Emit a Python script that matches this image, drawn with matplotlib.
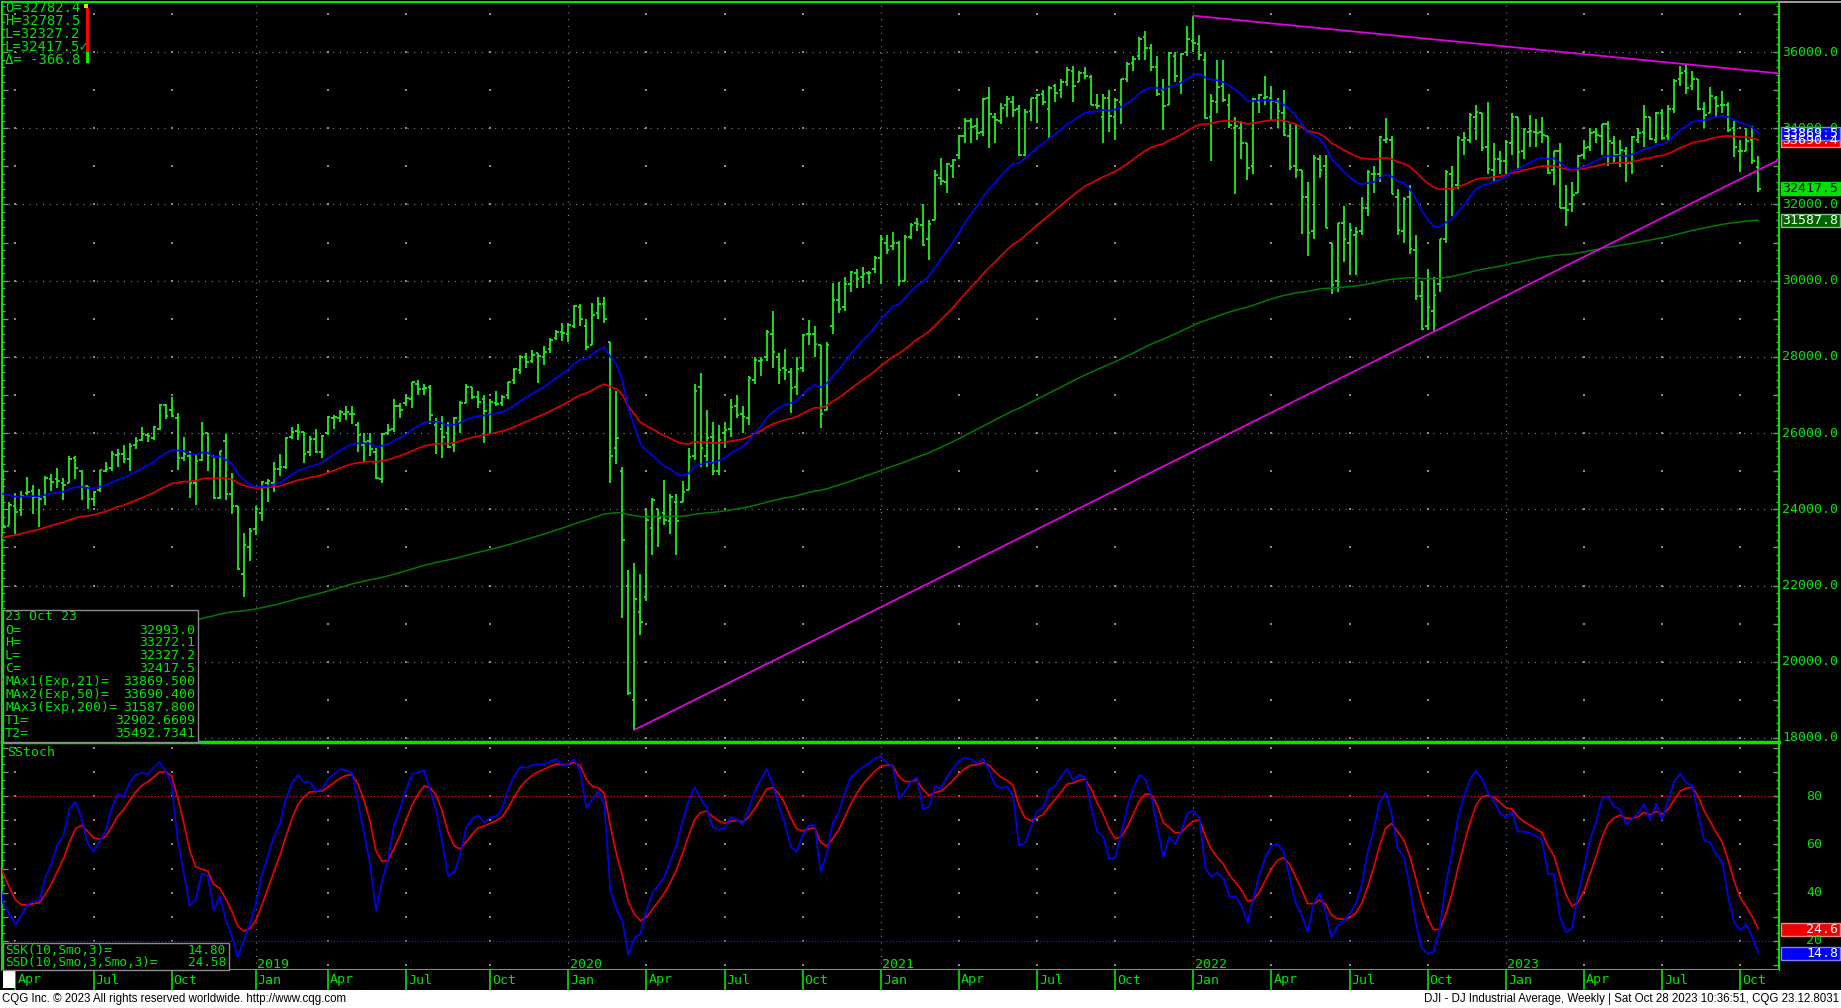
import numpy as np
import pandas as pd
import matplotlib
matplotlib.use("Agg")
import matplotlib.pyplot as plt
import matplotlib.dates as mdates
from matplotlib.collections import LineCollection
from matplotlib.patches import Rectangle
from matplotlib.lines import Line2D
from matplotlib.ticker import MultipleLocator

# ---------------------------
# Data: DJI weekly bars (week dated by its Monday)
# the first 13 bars (Dec 2017 - Mar 2018) only warm up the studies
# ---------------------------
first_week = "2017-12-18"

week_open = [
    24700, 24760, 24810, 25300, 25800, 26150, 26600, 25500, 24270, 25200, 25300, 24450,
    # 2018
    25180, 24900, 23560, 24080, 23990, 24420, 24480, 24330, 24320, 24790, 24800, 24700, 24700, 25340, 25000,
    24600, 24270, 24510, 25000, 25090, 25430, 25450, 25310, 25700, 25830, 25960, 25880, 26100, 26750, 26600,
    26400, 25350, 25400, 24700, 25300, 26000, 25400, 24300, 25800, 24400, 24100, 22300, 23000,
    # 2019
    23480, 23900, 24700, 24700, 25060, 25100, 25900, 26050, 26020, 25500, 25850, 25500, 26000, 26400, 26400,
    26500, 26500, 26200, 25700, 25800, 25500, 24800, 26000, 26100, 26700, 26800, 26900, 27300, 27150, 27200,
    26200, 26100, 26000, 25700, 26300, 26800, 27200, 26950, 26900, 26500, 26800, 26800, 27000, 27400, 27650,
    28000, 27900, 28100, 28000, 28200, 28500, 28650,
    # 2020
    28600, 28800, 29300, 28800, 28300, 29150, 29400, 28400, 25600, 25000, 22000, 19000, 21300, 21700, 23500,
    24000, 23900, 23700, 24200, 24200, 24500, 25400, 27200, 25400, 25900, 25000, 26000, 26100, 26700, 26500,
    26400, 27400, 27900, 28000, 28600, 28000, 27700, 27600, 27200, 27700, 28600, 28600, 28300, 26600, 28800,
    29500, 29300, 29900, 30200, 30100, 30200, 30300,
    # 2021
    30600, 31000, 30900, 31000, 30000, 31150, 31500, 31450, 31100, 31600, 32700, 32600, 33000, 33300, 33800,
    34200, 34050, 33900, 34800, 34300, 34200, 34600, 34700, 34500, 33300, 34450, 34800, 34900, 34500, 35100,
    35000, 35200, 35500, 35200, 35450, 35350, 34600, 34300, 34800, 34300, 34700, 35300, 35700, 35900, 36400,
    36100, 35600, 35000, 34600, 35900, 35200, 36000,
    # 2022
    36300, 36200, 35800, 34300, 34700, 35100, 34600, 34000, 34000, 33600, 33000, 34700, 34800, 34800, 34700,
    34400, 33800, 33000, 32900, 32200, 31300, 33200, 33000, 31000, 30000, 31500, 31000, 31200, 31300, 31900,
    32800, 32800, 33700, 33700, 32200, 31300, 32200, 30800, 29600, 28800, 29200, 29900, 31100, 32800, 32500,
    33700, 33700, 34300, 34400, 33500, 32900, 33200,
    # 2023
    33150, 33600, 34300, 33400, 33900, 33900, 33900, 33800, 32900, 33400, 31900, 32000, 32300, 33300, 33500,
    33900, 33800, 34100, 33600, 33300, 33400, 33100, 33700, 33900, 34300, 33700, 34400, 33800, 34500, 35300,
    35500, 35100, 35300, 34500, 34400, 34800, 34600, 34600, 34000, 33400, 33400, 33700, 32993.0,
]

week_high = [
    24876, 24870, 25300, 25810, 26150, 26617, 26610, 25600, 25200, 25480, 25800, 25450,
    # 2018
    25450, 25070, 24200, 24420, 24480, 24860, 24650, 24540, 24880, 24920, 25090, 24830, 25400, 25400, 25040,
    24610, 24480, 25040, 25240, 25540, 25570, 25690, 25730, 25890, 26170, 26000, 26180, 26770, 26770, 26950,
    26540, 25900, 25540, 25440, 26280, 26000, 25400, 25540, 25980, 24950, 24100, 23380, 23520,
    # 2019
    24080, 24750, 24800, 25250, 25440, 25890, 26150, 26240, 26040, 25930, 26110, 25950, 26440, 26480, 26600,
    26700, 26700, 26300, 26000, 26000, 25600, 26000, 26240, 26900, 26800, 27000, 27340, 27400, 27300, 27250,
    26400, 26450, 26300, 26420, 26850, 27300, 27200, 27100, 27000, 26900, 27100, 27000, 27350, 27700, 28040,
    28090, 28170, 28100, 28290, 28500, 28700, 28900,
    # 2020
    28900, 29370, 29380, 29000, 29410, 29570, 29570, 28400, 27100, 25100, 22400, 22600, 22300, 24000, 24300,
    24000, 24770, 24400, 24400, 24750, 25600, 27300, 27580, 26600, 26300, 26200, 26300, 26900, 27000, 26700,
    27500, 28000, 28000, 28700, 29200, 28100, 28200, 27700, 28000, 28600, 28960, 28800, 28300, 28400, 29930,
    29970, 30100, 30250, 30300, 30350, 30250, 30650,
    # 2021
    31200, 31200, 31270, 31030, 31200, 31500, 31640, 32010, 31600, 32900, 33230, 33100, 33200, 33820, 34260,
    34260, 34260, 34800, 35090, 34400, 34650, 34850, 34850, 34600, 34500, 34800, 34900, 35000, 35100, 35170,
    35300, 35600, 35630, 35500, 35600, 35400, 34900, 34900, 35000, 34800, 35300, 35750, 35900, 36400, 36560,
    36200, 35900, 35300, 36000, 36000, 35970, 36680,
    # 2022
    36952.65, 36450, 36000, 34900, 35800, 35800, 34900, 34300, 34200, 33600, 34800, 34900, 35370, 35100, 34800,
    35000, 34100, 34100, 32900, 32600, 33300, 33300, 33300, 31000, 31520, 31950, 31500, 31400, 32200, 32900,
    33000, 33800, 34280, 33800, 32400, 32200, 32500, 31200, 30000, 30300, 30100, 31100, 32900, 33000, 33800,
    33900, 34400, 34600, 34400, 34700, 33600, 33400,
    # 2023
    33700, 34400, 34300, 34000, 34340, 34250, 34300, 33800, 33400, 33600, 32500, 32600, 33300, 33700, 34000,
    34000, 34100, 34200, 33800, 33700, 33500, 33800, 34000, 34600, 34300, 34420, 34500, 34600, 35300, 35630,
    35679, 35500, 35300, 34700, 35070, 34850, 34980, 34700, 34200, 33700, 34000, 34060, 33272.1,
]

week_low = [
    24650, 24700, 24760, 25200, 25700, 26100, 25500, 23360, 24100, 24850, 24300, 24300,
    # 2018
    24780, 23510, 23600, 23345, 23820, 24380, 23890, 23530, 24110, 24480, 24570, 24250, 24680, 24800, 24250,
    23997, 24080, 24460, 24980, 25000, 25120, 25210, 25000, 25580, 25790, 25760, 25820, 26080, 26380, 26420,
    25040, 25260, 24290, 24120, 25270, 25010, 24270, 24270, 24240, 23880, 22400, 21712, 22640,
    # 2019
    23320, 23700, 24200, 24450, 24880, 25050, 25850, 25810, 25210, 25400, 25490, 25340, 25950, 26100, 26280,
    26350, 26250, 25500, 25220, 25400, 24800, 24680, 25950, 26020, 26400, 26700, 26650, 27000, 26990, 26250,
    25440, 25340, 25600, 25500, 26000, 26780, 26900, 26650, 25750, 26000, 26700, 26700, 26900, 27300, 27550,
    27700, 27850, 27320, 27800, 28100, 28450, 28420,
    # 2020
    28400, 28750, 28800, 28170, 28300, 29000, 28900, 24680, 25200, 21150, 19120, 18213.65, 20700, 21600, 22800,
    23000, 23600, 23350, 22800, 24200, 24500, 25300, 25100, 25100, 24900, 24900, 25600, 25900, 26400, 26000,
    26200, 27300, 27500, 27900, 27700, 27300, 27400, 26540, 27000, 27600, 28300, 28000, 26140, 26600, 28600,
    29150, 29200, 29700, 29800, 29800, 29900, 30200,
    # 2021
    29900, 30700, 30800, 29850, 30000, 31100, 31300, 30900, 30550, 31600, 32500, 32300, 32700, 33200, 33600,
    33600, 33700, 33800, 33470, 33600, 34100, 34300, 34300, 33270, 33270, 34200, 34150, 34600, 33740, 34700,
    34800, 35100, 34700, 35200, 35300, 34600, 34500, 33610, 33900, 33700, 34100, 35200, 35500, 35800, 35800,
    35500, 34850, 33960, 34600, 35200, 34900, 35900,
    # 2022
    36000, 35800, 34250, 33150, 34400, 34700, 34000, 32270, 33200, 32630, 32800, 34400, 34600, 34200, 34000,
    33800, 32900, 32700, 31230, 30640, 31100, 32700, 31380, 29650, 29700, 30500, 30150, 30140, 31200, 31700,
    32300, 32600, 33600, 32280, 31200, 31000, 30700, 29500, 28715, 28700, 28661, 29700, 31000, 31700, 32400,
    33300, 33600, 33700, 33400, 32800, 32600, 32800,
    # 2023
    32800, 33300, 32900, 33200, 33500, 33500, 33600, 32800, 32500, 31900, 31430, 31800, 32300, 33200, 33400,
    33600, 33300, 33000, 33100, 32990, 32600, 32800, 33600, 33500, 33700, 33600, 33700, 33700, 34400, 35100,
    34900, 35000, 34480, 34000, 34400, 34300, 34400, 33900, 33250, 32850, 33400, 33050, 32327.2,
]

week_close = [
    24754, 24719, 25296, 25803, 26072, 26616, 25521, 24191, 25219, 25310, 24538, 25336,
    # 2018
    24946, 23533, 24103, 23933, 24360, 24463, 24311, 24263, 24831, 24715, 24753, 24635, 25317, 25090, 24581,
    24271, 24456, 25019, 25058, 25451, 25463, 25313, 25669, 25790, 25965, 25917, 26154, 26743, 26458, 26447,
    25340, 25444, 24688, 25270, 25989, 25413, 24286, 25538, 24389, 24100, 22445, 23062, 23433,
    # 2019
    23996, 24706, 24737, 25064, 25106, 25883, 26031, 26026, 25450, 25849, 25502, 25929, 26425, 26412, 26559,
    26543, 26505, 25942, 25764, 25586, 24815, 25984, 26090, 26719, 26600, 26922, 27332, 27154, 27192, 26485,
    26287, 25886, 25628, 26403, 26797, 27219, 26935, 26820, 26573, 26817, 26770, 26958, 27347, 27681, 28005,
    27876, 28051, 28015, 28135, 28455, 28645, 28634,
    # 2020
    28824, 29348, 28990, 28256, 29103, 29398, 28992, 25409, 25865, 23186, 19174, 21637, 21053, 23720, 24242,
    23775, 23724, 24331, 23685, 24465, 25383, 27111, 25606, 25871, 25016, 25827, 26075, 26672, 26470, 26428,
    27433, 27931, 27930, 28654, 28133, 27666, 27657, 27174, 27683, 28587, 28606, 28336, 26502, 28323, 29480,
    29263, 29910, 30218, 30046, 30179, 30200, 30606,
    # 2021
    31098, 30814, 30997, 29983, 31148, 31458, 31494, 30932, 31496, 32779, 32628, 33073, 33153, 33801, 34200,
    34043, 33875, 34778, 34382, 34208, 34529, 34756, 34480, 33290, 34433, 34786, 34870, 34688, 35061, 34935,
    35208, 35515, 35120, 35455, 35369, 34608, 34584, 34798, 34326, 34746, 35295, 35677, 35820, 36328, 36100,
    35602, 34899, 34580, 35971, 35365, 35951, 36338,
    # 2022
    36231, 35912, 34265, 34725, 35089, 34738, 34079, 34059, 33615, 32945, 34755, 34862, 34818, 34721, 34451,
    33811, 32977, 32899, 32197, 31262, 33213, 32900, 31393, 29889, 31501, 31097, 31338, 31289, 31899, 32845,
    32803, 33761, 33707, 32283, 31318, 32151, 30822, 29590, 28726, 29297, 29635, 31083, 32861, 32403, 33748,
    33746, 34347, 34430, 33477, 32920, 33204, 33147,
    # 2023
    33631, 34303, 33375, 33978, 33926, 33869, 33827, 32817, 33391, 31910, 31862, 32238, 33274, 33485, 33886,
    33809, 34098, 33674, 33301, 33427, 33093, 33763, 33877, 34299, 33727, 34408, 33734, 34509, 35228, 35459,
    35066, 35281, 34500, 34346, 34838, 34577, 34618, 33964, 33507, 33407, 33670, 33127, 32417.5,
]

# moving average values just before first_week (start of the recursion)
ema_seed = {21: 22700, 50: 21900, 200: 18700}

# trend lines: anchor and value at the last bar (T1 / T2 in the data box)
t1_start, t1_start_val, t1_last_val = "2020-03-23", 18213.65, 32902.6609
t2_start, t2_start_val, t2_last_val = "2022-01-03", 36952.65, 35492.7341

# text boxes
cursor_lines = ["O=32782.4", "H=32787.5", "L=32327.2", "L=32417.5\u2713", "\u0394= -366.8"]
info_title = "23 Oct 23"
info_labels = ["O=", "H=", "L=", "C=", "MAx1(Exp,21)=", "MAx2(Exp,50)=", "MAx3(Exp,200)=", "T1=", "T2="]
info_values = ["32993.0", "33272.1", "32327.2", "32417.5", "33869.500", "33690.400", "31587.800",
               "32902.6609", "35492.7341"]
stoch_labels = ["SSK(10,Smo,3)=", "SSD(10,Smo,3,Smo,3)="]
stoch_values = ["14.80", "24.58"]
price_levels = list(range(18000, 36001, 2000))
stoch_levels = [80, 60, 40, 20]
footer_left = "CQG Inc. \u00a9 2023 All rights reserved worldwide. http://www.cqg.com"
footer_right = "DJI - DJ Industrial Average, Weekly | Sat Oct 28 2023 10:36:51, CQG 23.12.8031"

# ---------------------------
# Studies
# ---------------------------
dates = pd.date_range(first_week, periods=len(week_close), freq="7D")
x = mdates.date2num(dates)
close_s = pd.Series(week_close, dtype=float)


def ema(span):
    s = pd.concat([pd.Series([float(ema_seed[span])]), close_s], ignore_index=True)
    return s.ewm(span=span, adjust=False).mean().iloc[1:].to_numpy()


ema21, ema50, ema200 = ema(21), ema(50), ema(200)

# slow stochastic: numerator and range smoothed separately, then %D smoothed
hh = pd.Series(week_high, dtype=float).rolling(10, min_periods=1).max()
ll = pd.Series(week_low, dtype=float).rolling(10, min_periods=1).min()
num = (close_s - ll).ewm(alpha=1 / 3, adjust=False).mean()
rng = (hh - ll).ewm(alpha=1 / 3, adjust=False).mean()
ssk = 100 * num / rng
ssd = ssk.ewm(alpha=1 / 3, adjust=False).mean()

# ---------------------------
# Layout (pixel based, 1841 x 1008)
# ---------------------------
W, H = 1841, 1008
GREEN = "#00e600"
BAR = "#22ee22"
GRID = "#8a8a8a"
MONO = ["DejaVu Sans Mono", "DejaVu Sans"]
PX_PT = 0.03811           # main panel: pixels per index point
STO_PX = 145 / 60         # stoch panel: pixels per unit
DAY_PX = 6.01 / 7         # pixels per day


def fx(px):
    return px / W


def fy(py):
    return 1 - py / H


def py_price(p):
    return 52 + (36000 - p) * PX_PT


def py_sto(v):
    return 796 + (80 - v) * STO_PX


x_last = x[-1]
x_left = x_last - (1758.3 - 2) / DAY_PX
x_right = x_last + (1779 - 1758.3) / DAY_PX

fig = plt.figure(figsize=(W / 100, H / 100), dpi=100, facecolor="black")
ax = fig.add_axes([fx(2), fy(742), fx(1777), fy(2) - fy(742)])
axs = fig.add_axes([fx(2), fy(970), fx(1777), fy(742) - fy(970)])
axt = fig.add_axes([fx(2), fy(990), fx(1777), fy(970) - fy(990)])

ax.set_ylim(36000 - (742 - 52) / PX_PT, 36000 - (2 - 52) / PX_PT)
axs.set_ylim(80 - (970 - 796) / STO_PX, 80 - (742 - 796) / STO_PX)
axt.set_ylim(0, 1)

for a in (ax, axs, axt):
    a.set_facecolor("black")
    a.set_xlim(x_left, x_right)
    a.tick_params(axis="x", bottom=False, labelbottom=False)
    for s in a.spines.values():
        s.set_color(GREEN)
        s.set_linewidth(1.5)
axs.spines["top"].set_linewidth(2.5)
for s in axt.spines.values():
    s.set_visible(False)
axt.set_yticks([])

ax.yaxis.set_major_locator(MultipleLocator(1000))
ax.yaxis.set_minor_locator(MultipleLocator(200))
axs.yaxis.set_major_locator(MultipleLocator(10))
axs.yaxis.set_minor_locator(MultipleLocator(10 / 3))
for a in (ax, axs):
    a.tick_params(axis="y", which="both", direction="in", left=True, right=True,
                  labelleft=False, labelright=False, color=GRID, width=1)
    a.tick_params(axis="y", which="major", length=4.5)
    a.tick_params(axis="y", which="minor", length=2.5)

# month / year positions: first weekly bar dated inside each quarter month
month_starts = pd.date_range("2018-04-01", "2023-10-01", freq="QS")
tick_idx = [int(np.argmax(dates >= m)) for m in month_starts]
tick_x = x[tick_idx]
year_x = [tx for tx, m in zip(tick_x, month_starts) if m.month == 1]
year_txt = [str(m.year) for m in month_starts if m.month == 1]
quarter_x = [tx for tx, m in zip(tick_x, month_starts) if m.month != 1]

# ---------------------------
# Grid
# ---------------------------
dots = (0, (0.8, 4.6))
for lvl in price_levels:
    ax.axhline(lvl, color=GRID, lw=0.9, ls=dots, zorder=1)
for yx in year_x:
    ax.axvline(yx, color=GRID, lw=0.9, ls=dots, zorder=1)
    axs.axvline(yx, color=GRID, lw=0.9, ls=dots, zorder=1)
lv = np.arange(18000, 37001, 1000)
ax.scatter(np.repeat(quarter_x, len(lv)), np.tile(lv, len(quarter_x)), s=1.0, c=GRID,
           marker="s", linewidths=0, zorder=1)
sv = np.arange(10, 101, 10)
axs.scatter(np.repeat(quarter_x, len(sv)), np.tile(sv, len(quarter_x)), s=1.0, c=GRID,
            marker="s", linewidths=0, zorder=1)
axs.axhline(80, color="#b00000", lw=0.9, ls=(0, (1.5, 1.2)), zorder=1)
axs.axhline(20, color="#2020e0", lw=0.9, ls=(0, (1, 1.5)), zorder=1)

# ---------------------------
# Price bars, averages, trend lines
# ---------------------------
o = np.asarray(week_open, dtype=float)
h = np.asarray(week_high, dtype=float)
l = np.asarray(week_low, dtype=float)
c = np.asarray(week_close, dtype=float)
half = 3.0
segs = np.concatenate([
    np.stack([np.column_stack([x, l]), np.column_stack([x, h])], axis=1),
    np.stack([np.column_stack([x - half, o]), np.column_stack([x, o])], axis=1),
    np.stack([np.column_stack([x, c]), np.column_stack([x + half, c])], axis=1),
])
ax.add_collection(LineCollection(segs, colors=BAR, linewidths=1.3, zorder=2))

ax.plot(x, ema200, color="#007a00", lw=1.1, zorder=3)
ax.plot(x, ema50, color="#e00000", lw=1.2, zorder=3)
ax.plot(x, ema21, color="#0000ff", lw=1.2, zorder=3)


def trend(start, start_val, last_val):
    x0 = mdates.date2num(pd.Timestamp(start))
    slope = (last_val - start_val) / (x_last - x0)
    return [x0, x_right], [start_val, start_val + slope * (x_right - x0)]


for tl in (trend(t1_start, t1_start_val, t1_last_val), trend(t2_start, t2_start_val, t2_last_val)):
    ax.plot(tl[0], tl[1], color="#e000e0", lw=1.3, zorder=4)

# ---------------------------
# Slow stochastic
# ---------------------------
axs.plot(x, ssd, color="#ee0000", lw=1.2, zorder=3)
axs.plot(x, ssk, color="#0000ff", lw=1.2, zorder=3)
for yx, yt in zip(year_x, year_txt):
    axs.text(yx + 1.5, 80 - (965 - 796) / STO_PX, yt, color=GREEN, fontsize=9.5,
             family=MONO, va="center", ha="left", zorder=5)

# ---------------------------
# Time axis row
# ---------------------------
for tx, m in zip(tick_x, month_starts):
    axt.plot([tx, tx], [0, 1], color=GREEN, lw=1.2)
    axt.text(tx + 2.3, 0.5, m.strftime("%b"), color=GREEN, fontsize=9.5, family=MONO,
             va="center", ha="left", clip_on=True)
fig.add_artist(Rectangle((fx(3), fy(988)), fx(12), fy(971) - fy(988), transform=fig.transFigure,
                         facecolor="white", edgecolor="none"))

# ---------------------------
# Right axis labels and value boxes
# ---------------------------
for lvl in price_levels:
    fig.text(fx(1782), fy(py_price(lvl)), f"{lvl:.1f}", color=GREEN, fontsize=9.5, family=MONO,
             va="center", ha="left")
for lvl in stoch_levels:
    fig.text(fx(1806), fy(py_sto(lvl)), f"{lvl}", color=GREEN, fontsize=9.5, family=MONO,
             va="center", ha="left")


def value_box(py, text, face, edge, txt_color):
    fig.add_artist(Rectangle((fx(1781), fy(py + 6.5)), fx(59), fy(py - 6.5) - fy(py + 6.5),
                             transform=fig.transFigure, facecolor=face, edgecolor=edge, lw=1))
    fig.text(fx(1838), fy(py), text, color=txt_color, fontsize=9.5, family=MONO,
             va="center", ha="right")


value_box(py_price(float(info_values[5])), "33690.4", "#ee0000", "#ff8080", "white")
value_box(py_price(float(info_values[4])) + 0.5, "33869.5", "#0000ff", "#8080ff", "white")
value_box(py_price(float(info_values[3])), info_values[3], "#00e000", "#00e000", "black")
value_box(py_price(float(info_values[6])), "31587.8", "#006400", "#80c080", "white")
value_box(py_sto(24.6), "24.6", "#ee0000", "#ff8080", "white")
value_box(py_sto(14.8), "14.8", "#0000ff", "#8080ff", "white")

# ---------------------------
# Text boxes
# ---------------------------
for i, s in enumerate(cursor_lines):
    fig.text(fx(5), fy(8 + 13 * i), s, color=GREEN, fontsize=10, family=MONO, va="center", ha="left")
fig.add_artist(Rectangle((fx(84), fy(8)), fx(4), fy(4) - fy(8), transform=fig.transFigure,
                         facecolor="#e0e000", edgecolor="none"))
fig.add_artist(Rectangle((fx(86), fy(52)), fx(3), fy(8) - fy(52), transform=fig.transFigure,
                         facecolor="#ff0000", edgecolor="none"))
fig.add_artist(Rectangle((fx(86), fy(63)), fx(3), fy(52) - fy(63), transform=fig.transFigure,
                         facecolor="#00ee00", edgecolor="none"))

fig.add_artist(Rectangle((fx(3), fy(742)), fx(195), fy(610) - fy(742), transform=fig.transFigure,
                         facecolor="black", edgecolor="#8c8c8c", lw=1))
fig.text(fx(5), fy(617), info_title, color=GREEN, fontsize=9.5, family=MONO, va="center", ha="left")
for i, (lab, val) in enumerate(zip(info_labels, info_values)):
    yy = fy(630 + 12.9 * i)
    fig.text(fx(5), yy, lab, color=GREEN, fontsize=9.5, family=MONO, va="center", ha="left")
    fig.text(fx(195), yy, val, color=GREEN, fontsize=9.5, family=MONO, va="center", ha="right")

fig.text(fx(7), fy(752), "SStoch", color=GREEN, fontsize=9.5, family=MONO, va="center", ha="left")
fig.add_artist(Rectangle((fx(3), fy(970)), fx(226), fy(943) - fy(970), transform=fig.transFigure,
                         facecolor="black", edgecolor="#8c8c8c", lw=1))
for i, (lab, val) in enumerate(zip(stoch_labels, stoch_values)):
    yy = fy(951 + 11.5 * i)
    fig.text(fx(5), yy, lab, color=GREEN, fontsize=9.2, family=MONO, va="center", ha="left")
    fig.text(fx(226), yy, val, color=GREEN, fontsize=9.2, family=MONO, va="center", ha="right")

# window border bits and footer
fig.add_artist(Line2D([fx(1779), 1], [fy(1.5), fy(1.5)], transform=fig.transFigure, color="#9a9a9a", lw=1.5))
fig.add_artist(Rectangle((0, 0), 1, fy(990), transform=fig.transFigure, facecolor="white", edgecolor="none"))
fig.text(fx(2), fy(999), footer_left, color="black", fontsize=8.3, family="Liberation Sans", va="center", ha="left")
fig.text(fx(1839), fy(999), footer_right, color="black", fontsize=8.3, family="Liberation Sans",
         va="center", ha="right")

fig.savefig("out.png", dpi=100, facecolor="black")
